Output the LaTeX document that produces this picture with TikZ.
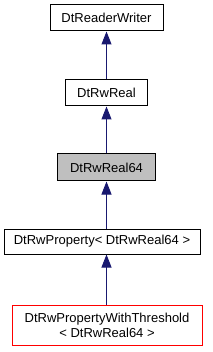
\documentclass[tikz,border=0pt]{standalone}
\usepackage{fontspec}
\setmainfont{Liberation Sans}
\usetikzlibrary{arrows.meta}
\definecolor{edgeblue}{HTML}{191970}
\definecolor{boxgray}{HTML}{BFBFBF}
\definecolor{boxred}{HTML}{FF0000}
\tikzset{
  cls/.style={draw=black, line width=1pt, fill=white, inner sep=0pt, font=\fontsize{13}{15}\selectfont, align=center},
  inh/.style={draw=edgeblue, line width=1pt, -{Triangle[length=13pt,width=10pt]}, color=edgeblue},
}
\begin{document}
\begin{tikzpicture}[x=1pt,y=-1pt]
\useasboundingbox (0,0) rectangle (213,352);
\node[cls, minimum width=113pt, minimum height=26pt] (rw) at (106.5,18) {DtReaderWriter};
\node[cls, minimum width=82pt, minimum height=26pt] (real) at (106.5,93) {DtRwReal};
\node[cls, fill=boxgray, minimum width=98pt, minimum height=27pt] (r64) at (106.5,167.5) {DtRwReal64};
\node[cls, minimum width=196pt, minimum height=25pt] (prop) at (102,241.5) {DtRwProperty< DtRwReal64 >};
\node[cls, draw=boxred, minimum width=190pt, minimum height=40pt] (thr) at (107,325) {DtRwPropertyWithThreshold\\< DtRwReal64 >};
\draw[inh] (real.north -| rw.south) -- (rw.south);
\draw[inh] (r64.north -| real.south) -- (real.south);
\draw[inh] (prop.north -| r64.south) -- (r64.south);
\draw[inh] (thr.north -| r64.south) -- (prop.south -| r64.south);
\end{tikzpicture}
\end{document}
